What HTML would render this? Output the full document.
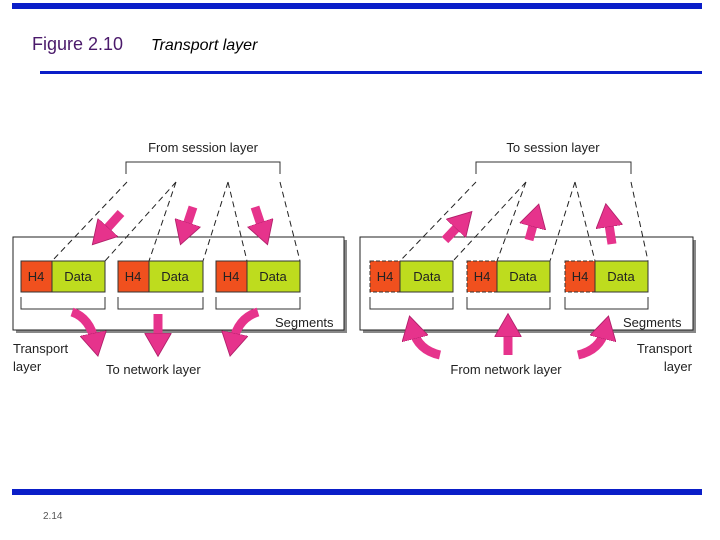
<!DOCTYPE html>
<html><head><meta charset="utf-8"><style>
body{margin:0;background:#fff;}
svg{display:block;font-family:"Liberation Sans",sans-serif;}
</style></head><body>
<svg width="720" height="540" viewBox="0 0 720 540">
<defs>
<marker id="ah" markerWidth="3" markerHeight="3" refX="1" refY="1.5" orient="auto" markerUnits="strokeWidth">
<path d="M0,0 L2.6,1.5 L0,3 z" fill="#e6338c" stroke="#b0206a" stroke-width="0.1"/>
</marker>
</defs>
<rect x="12" y="3" width="690" height="6" fill="#0a1ec8"/>
<rect x="40" y="71" width="662" height="3" fill="#0a1ec8"/>
<rect x="12" y="489" width="690" height="6" fill="#0a1ec8"/>
<text x="32" y="50" font-size="18" fill="#4b1a6b">Figure 2.10</text>
<text x="151" y="50" font-size="16" font-style="italic" fill="#000">Transport layer</text>
<text x="43" y="519" font-size="10" fill="#555">2.14</text>

<g font-size="13" fill="#222">
<!-- LEFT -->
<rect x="16" y="240" width="331" height="93" fill="#888"/>
<rect x="13" y="237" width="331" height="93" fill="#fff" stroke="#222"/>
<text x="203" y="152" text-anchor="middle">From session layer</text>
<path d="M126,174 V162 H280 V174" fill="none" stroke="#333"/>
<g stroke="#222" stroke-dasharray="6,4" fill="none">
<path d="M127,182 L52,261 M176,182 L105,261 M176,182 L149,261 M228,182 L203,261 M228,182 L247,261 M280,182 L300,261"/>
</g>
<g stroke="#333">
<rect x="21" y="261" width="31" height="31" fill="#f0501e"/><rect x="52" y="261" width="53" height="31" fill="#bedc1e"/>
<rect x="118" y="261" width="31" height="31" fill="#f0501e"/><rect x="149" y="261" width="54" height="31" fill="#bedc1e"/>
<rect x="216" y="261" width="31" height="31" fill="#f0501e"/><rect x="247" y="261" width="53" height="31" fill="#bedc1e"/>
</g>
<text x="36" y="281" text-anchor="middle">H4</text><text x="78" y="281" text-anchor="middle">Data</text>
<text x="133" y="281" text-anchor="middle">H4</text><text x="175" y="281" text-anchor="middle">Data</text>
<text x="231" y="281" text-anchor="middle">H4</text><text x="273" y="281" text-anchor="middle">Data</text>
<path d="M21,297 V309 H105 V297 M118,297 V309 H203 V297 M216,297 V309 H300 V297" fill="none" stroke="#333"/>
<text x="275" y="327">Segments</text>
<text x="13" y="353">Transport</text><text x="13" y="371">layer</text>
<text x="106" y="374">To network layer</text>
<g stroke="#e6338c" stroke-width="9" fill="none" marker-end="url(#ah)">
<path d="M121,213 L102,234"/>
<path d="M193,207 L185,231"/>
<path d="M255,207 L263,231"/>
<path d="M72,312 Q90,318 95,342"/>
<path d="M158,314 L158,342"/>
<path d="M258,312 Q238,318 233,342"/>
</g>

<!-- RIGHT -->
<rect x="363" y="240" width="333" height="93" fill="#888"/>
<rect x="360" y="237" width="333" height="93" fill="#fff" stroke="#222"/>
<text x="553" y="152" text-anchor="middle">To session layer</text>
<path d="M476,174 V162 H631 V174" fill="none" stroke="#333"/>
<g stroke="#222" stroke-dasharray="6,4" fill="none">
<path d="M476,182 L400,261 M526,182 L453,261 M526,182 L497,261 M575,182 L550,261 M575,182 L595,261 M631,182 L648,261"/>
</g>
<g stroke="#333">
<rect x="370" y="261" width="30" height="31" fill="#f0501e" stroke-dasharray="4,2"/><rect x="400" y="261" width="53" height="31" fill="#bedc1e"/>
<rect x="467" y="261" width="30" height="31" fill="#f0501e" stroke-dasharray="4,2"/><rect x="497" y="261" width="53" height="31" fill="#bedc1e"/>
<rect x="565" y="261" width="30" height="31" fill="#f0501e" stroke-dasharray="4,2"/><rect x="595" y="261" width="53" height="31" fill="#bedc1e"/>
</g>
<text x="385" y="281" text-anchor="middle">H4</text><text x="427" y="281" text-anchor="middle">Data</text>
<text x="482" y="281" text-anchor="middle">H4</text><text x="523" y="281" text-anchor="middle">Data</text>
<text x="580" y="281" text-anchor="middle">H4</text><text x="621" y="281" text-anchor="middle">Data</text>
<path d="M370,297 V309 H453 V297 M467,297 V309 H550 V297 M565,297 V309 H648 V297" fill="none" stroke="#333"/>
<text x="623" y="327">Segments</text>
<text x="692" y="353" text-anchor="end">Transport</text><text x="692" y="371" text-anchor="end">layer</text>
<text x="506" y="374" text-anchor="middle">From network layer</text>
<g stroke="#e6338c" stroke-width="9" fill="none" marker-end="url(#ah)">
<path d="M445,240 L462,222"/>
<path d="M529,240 L535,218"/>
<path d="M612,244 L608,218"/>
<path d="M440,355 Q418,350 413,330"/>
<path d="M508,355 L508,328"/>
<path d="M578,355 Q600,350 605,330"/>
</g>
</g>
</svg>
</body></html>
